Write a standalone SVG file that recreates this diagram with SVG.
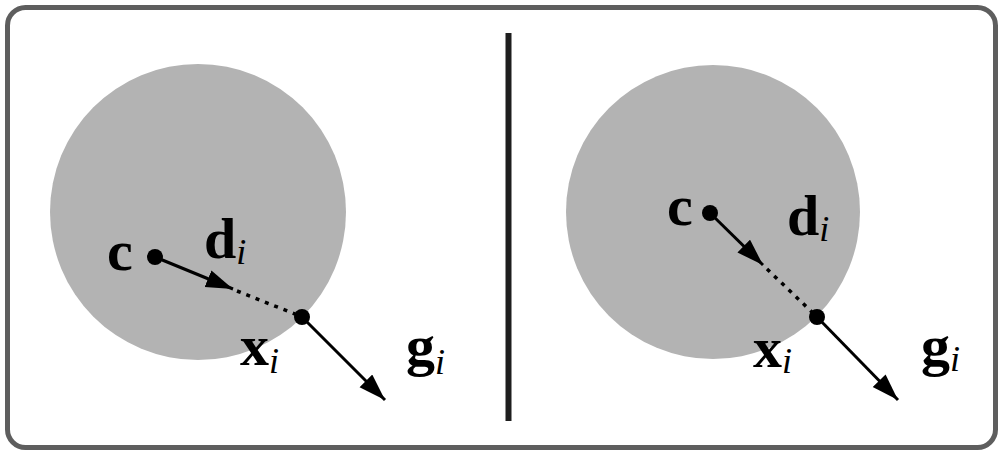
<svg xmlns="http://www.w3.org/2000/svg" width="998" height="450" viewBox="0 0 998 450">
<style>
.frame{fill:#fff;stroke:#5e5e5e;stroke-width:5}
.disk{fill:#b3b3b3}
.sep{stroke:#1e1e1e;stroke-width:6}
.ln{stroke:#000;stroke-width:3;fill:none}
.dot{stroke:#000;stroke-width:3.5;stroke-dasharray:4 6;fill:none}
.pt{fill:#000}
.lbl{font-family:"Liberation Serif","Times New Roman",serif;font-weight:bold;font-size:58px;fill:#000}
.sub{font-style:italic;font-weight:normal;font-size:36px}
</style>
<defs>
<marker id="ah" markerUnits="userSpaceOnUse" markerWidth="30" markerHeight="20" refX="27" refY="9" orient="auto">
<path d="M0,0 L27,9 L0,18 z" fill="#000"/>
</marker>
</defs>
<rect class="frame" x="7.5" y="7.5" width="988" height="440" rx="18"/>
<line class="sep" x1="508.5" y1="33" x2="508.5" y2="421"/>
<g id="left-panel">
<circle id="left-disk" class="disk" cx="198" cy="212" r="148"/>
<g id="connectors-left">
<line class="ln" x1="155" y1="257" x2="233" y2="289" marker-end="url(#ah)"/>
<line class="dot" x1="237" y1="291" x2="300" y2="316"/>
<line class="ln" x1="302" y1="317" x2="385" y2="400" marker-end="url(#ah)"/>
</g>
<g id="left-c"><circle class="pt" cx="155" cy="257" r="8"/><text class="lbl" x="107" y="270">c</text></g>
<g id="left-d"><text class="lbl" x="204" y="258">d<tspan class="sub" dy="6">i</tspan></text></g>
<g id="left-x"><circle class="pt" cx="302" cy="317" r="8"/><text class="lbl" x="240" y="365">x<tspan class="sub" dy="8">i</tspan></text></g>
<g id="left-g"><text class="lbl" x="406" y="365">g<tspan class="sub" dy="9">i</tspan></text></g>
</g>
<g id="right-panel">
<circle id="right-disk" class="disk" cx="713" cy="212" r="147"/>
<g id="connectors-right">
<line class="ln" x1="710" y1="213" x2="763" y2="265" marker-end="url(#ah)"/>
<line class="dot" x1="767" y1="269" x2="815" y2="315"/>
<line class="ln" x1="817" y1="317" x2="898" y2="400" marker-end="url(#ah)"/>
</g>
<g id="right-c"><circle class="pt" cx="710" cy="213" r="8"/><text class="lbl" x="667" y="225">c</text></g>
<g id="right-d"><text class="lbl" x="787" y="235">d<tspan class="sub" dy="6">i</tspan></text></g>
<g id="right-x"><circle class="pt" cx="817" cy="317" r="8"/><text class="lbl" x="753" y="367">x<tspan class="sub" dy="6">i</tspan></text></g>
<g id="right-g"><text class="lbl" x="921" y="365">g<tspan class="sub" dy="6">i</tspan></text></g>
</g>
</svg>
